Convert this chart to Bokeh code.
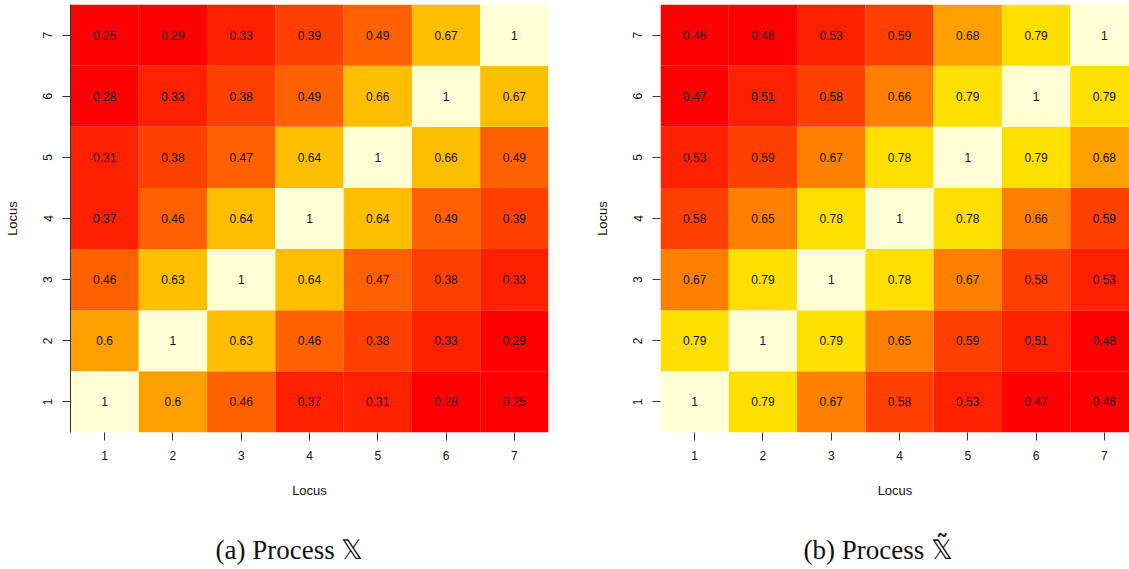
from bokeh.plotting import figure
from bokeh.layouts import row, column
from bokeh.models import ColumnDataSource, FixedTicker
from bokeh.core.properties import value
from bokeh.embed import file_html
from bokeh.resources import INLINE

loci = [1, 2, 3, 4, 5, 6, 7]

# rows listed from Locus 1 (bottom) to Locus 7 (top); columns Locus 1..7
corr_x = [
    [1.00, 0.60, 0.46, 0.37, 0.313, 0.28, 0.25],
    [0.60, 1.00, 0.63, 0.46, 0.38, 0.33, 0.29],
    [0.46, 0.63, 1.00, 0.64, 0.47, 0.38, 0.33],
    [0.37, 0.46, 0.64, 1.00, 0.64, 0.49, 0.39],
    [0.313, 0.38, 0.47, 0.64, 1.00, 0.66, 0.49],
    [0.28, 0.33, 0.38, 0.49, 0.66, 1.00, 0.67],
    [0.25, 0.29, 0.33, 0.39, 0.49, 0.67, 1.00],
]
corr_xt = [
    [1.00, 0.79, 0.67, 0.58, 0.53, 0.47, 0.4551],
    [0.79, 1.00, 0.79, 0.65, 0.59, 0.51, 0.48],
    [0.67, 0.79, 1.00, 0.78, 0.67, 0.58, 0.53],
    [0.58, 0.65, 0.78, 1.00, 0.78, 0.66, 0.59],
    [0.53, 0.59, 0.67, 0.78, 1.00, 0.79, 0.684],
    [0.47, 0.51, 0.58, 0.66, 0.79, 1.00, 0.79],
    [0.4551, 0.48, 0.53, 0.59, 0.684, 0.79, 1.00],
]

captions = ["(a) Process \U0001D54F", "(b) Process \U0001D54F\u0303"]

# R heat.colors(12)
heat12 = ["#FF0000", "#FF2000", "#FF4000", "#FF6000", "#FF8000", "#FF9F00",
          "#FFBF00", "#FFDF00", "#FFFF00", "#FFFF2A", "#FFFF80", "#FFFFD5"]


def fmt(v):
    return f"{v:.2f}".rstrip("0").rstrip(".")


def make_panel(mat, width, frame_w, x_end, left_axis_line):
    vals = [v for r in mat for v in r]
    lo, hi = min(vals), max(vals)
    n = len(heat12)
    xs, ys, cols, labs = [], [], [], []
    for i, r in enumerate(mat):
        for j, v in enumerate(r):
            xs.append(loci[j])
            ys.append(loci[i])
            k = int((v - lo) / (hi - lo) * n)
            k = min(max(k, 0), n - 1)
            cols.append(heat12[k])
            labs.append(fmt(v))
    src = ColumnDataSource(dict(x=xs, y=ys, c=cols, t=labs))

    p = figure(width=width, height=520, x_range=(0.5, x_end), y_range=(0.5, 7.5),
               output_backend="svg", toolbar_location=None,
               min_border_left=70, min_border_right=width - 70 - frame_w,
               min_border_top=4, min_border_bottom=88)
    p.outline_line_color = None
    p.xgrid.visible = False
    p.ygrid.visible = False
    p.background_fill_color = "white"
    p.border_fill_color = "white"

    p.rect(x="x", y="y", width=1, height=1, source=src, fill_color="c",
           line_color=None)
    p.text(x="x", y="y", text="t", source=src, text_align="center",
           text_baseline="middle", text_font_size="12px",
           text_font=value("Liberation Sans"), text_color="#111111")

    for ax in (p.xaxis[0], p.yaxis[0]):
        ax.ticker = FixedTicker(ticks=loci)
        ax.axis_label = "Locus"
        ax.axis_label_text_font = "Liberation Sans"
        ax.axis_label_text_font_style = "normal"
        ax.axis_label_text_font_size = "13px"
        ax.axis_label_text_color = "#111111"
        ax.major_label_text_font = "Liberation Sans"
        ax.major_label_text_font_size = "12px"
        ax.major_label_text_color = "#111111"
        ax.major_tick_out = 8
        ax.major_tick_in = 0
        ax.major_tick_line_color = "#333333"
        ax.minor_tick_line_color = None
    p.xaxis[0].axis_line_color = None
    p.xaxis[0].major_label_standoff = 10
    p.xaxis[0].axis_label_standoff = 20
    p.yaxis[0].axis_line_color = "#333333" if left_axis_line else None
    p.yaxis[0].major_label_orientation = "vertical"
    p.yaxis[0].major_label_standoff = 10
    p.yaxis[0].axis_label_standoff = 21
    return p


# right panel: cells have the same width as the left, the last column is cut by the page edge
pa = make_panel(corr_x, 590, 478, 7.5, True)
pb = make_panel(corr_xt, 539, 469, 0.5 + 7 * 469 / 478, False)

# caption strip below the two panels (pixel coordinates)
cap = figure(width=1129, height=49, x_range=(0, 1129), y_range=(0, 49),
             output_backend="svg", toolbar_location=None, min_border=0)
cap.axis.visible = False
cap.grid.visible = False
cap.outline_line_color = None
cap.text(x=[215, 803], y=[20, 20], text=captions, text_align="left",
         text_baseline="alphabetic", text_font_size="27px",
         text_font=value("Liberation Serif"), text_color="#111111")

layout = column(row(pa, pb), cap, spacing=0)
open("out.html", "w").write(file_html(layout, INLINE))
